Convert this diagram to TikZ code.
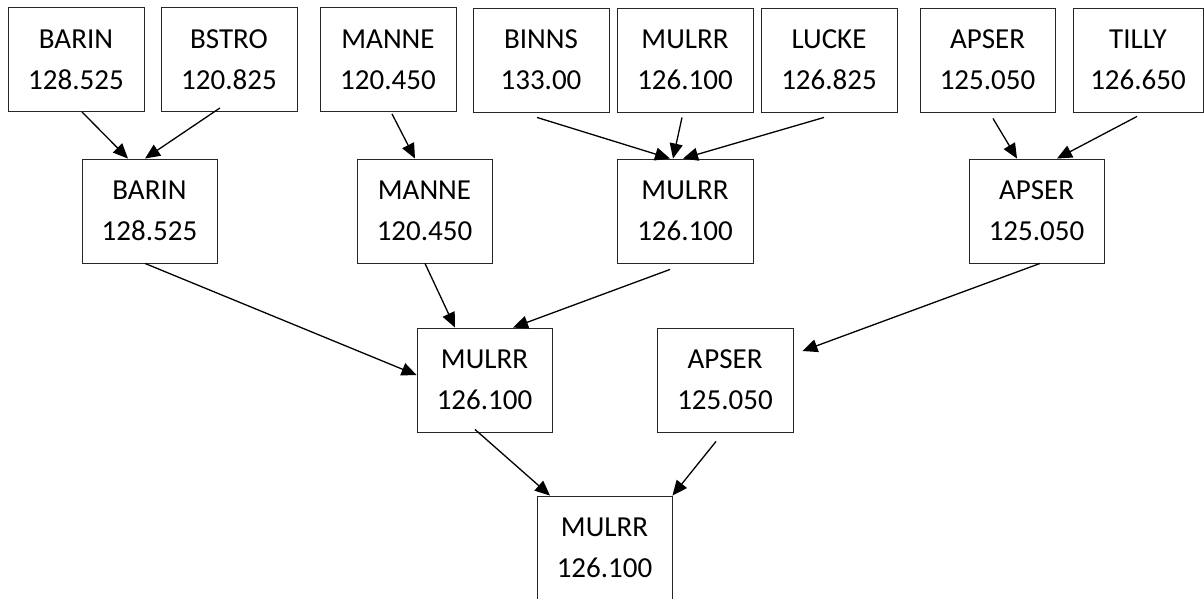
\documentclass[tikz,border=0pt]{standalone}
\usepackage{fontspec}
\setmainfont{Carlito}
\usetikzlibrary{arrows.meta}
\tikzset{
  stn/.style={draw=black!85, line width=0.9pt, fill=white, inner sep=0pt,
    minimum width=136pt, minimum height=104pt, align=center,
    font=\fontsize{29}{41}\selectfont},
  arr/.style={line width=1.3pt, -{Triangle[length=15pt,width=13pt]}}
}
\begin{document}
\begin{tikzpicture}[x=1pt,y=-1pt]
\useasboundingbox[fill=white] (0,0) rectangle (1204,599);
% top row
\node[stn] (t1) at (76,59.5) {BARIN\\128.525};
\node[stn] (t2) at (229,59.5) {BSTRO\\120.825};
\node[stn] (t3) at (388,59.5) {MANNE\\120.450};
\node[stn] (t4) at (541,60) {BINNS\\133.00};
\node[stn] (t5) at (685,60) {MULRR\\126.100};
\node[stn] (t6) at (829,60) {LUCKE\\126.825};
\node[stn, minimum width=135pt] (t7) at (987.5,60) {APSER\\125.050};
\node[stn, minimum width=130pt] (t8) at (1138,60) {TILLY\\126.650};
% second row
\node[stn, minimum width=135pt] (m1) at (149.5,211) {BARIN\\128.525};
\node[stn, minimum width=135pt] (m2) at (424.5,211) {MANNE\\120.450};
\node[stn] (m3) at (685,211) {MULRR\\126.100};
\node[stn, minimum width=135pt] (m4) at (1036.5,211) {APSER\\125.050};
% third row
\node[stn, minimum width=135pt] (l1) at (484.5,380) {MULRR\\126.100};
\node[stn] (l2) at (725,380) {APSER\\125.050};
% bottom
\node[stn, minimum width=135pt] (b) at (604.5,548) {MULRR\\126.100};
% connectors
\draw[arr] ([shift={(6,0)}]t1.south) -- ([shift={(-21.5,0)}]m1.north);
\draw[arr] ([shift={(-9,-4)}]t2.south) -- ([shift={(-4.5,0)}]m1.north);
\draw[arr] ([shift={(4,2)}]t3.south) -- ([shift={(-9.5,0)}]m2.north);
\draw[arr] ([shift={(-4,5)}]t4.south) -- ([shift={(-15,0)}]m3.north);
\draw[arr] ([shift={(-3,5)}]t5.south) -- ([shift={(-12,0)}]m3.north);
\draw[arr] ([shift={(-5,5)}]t6.south) -- ([shift={(-2,0)}]m3.north);
\draw[arr] ([shift={(5.5,6)}]t7.south) -- ([shift={(-19.5,0)}]m4.north);
\draw[arr] ([shift={(-1,4)}]t8.south) -- ([shift={(20.5,0)}]m4.north);
\draw[arr] ([shift={(-4.5,0)}]m1.south) -- ([shift={(0,-5)}]l1.west);
\draw[arr] ([shift={(0.5,0)}]m2.south) -- ([shift={(-29.5,0)}]l1.north);
\draw[arr] ([shift={(-15,6)}]m3.south) -- ([shift={(28.5,0)}]l1.north);
\draw[arr] ([shift={(3.5,0)}]m4.south) -- ([shift={(9,-29)}]l2.east);
\draw[arr] ([shift={(-9.5,-3)}]l1.south) -- ([shift={(-54.5,0)}]b.north);
\draw[arr] ([shift={(-9,9)}]l2.south) -- (b.north east);
\end{tikzpicture}
\end{document}
